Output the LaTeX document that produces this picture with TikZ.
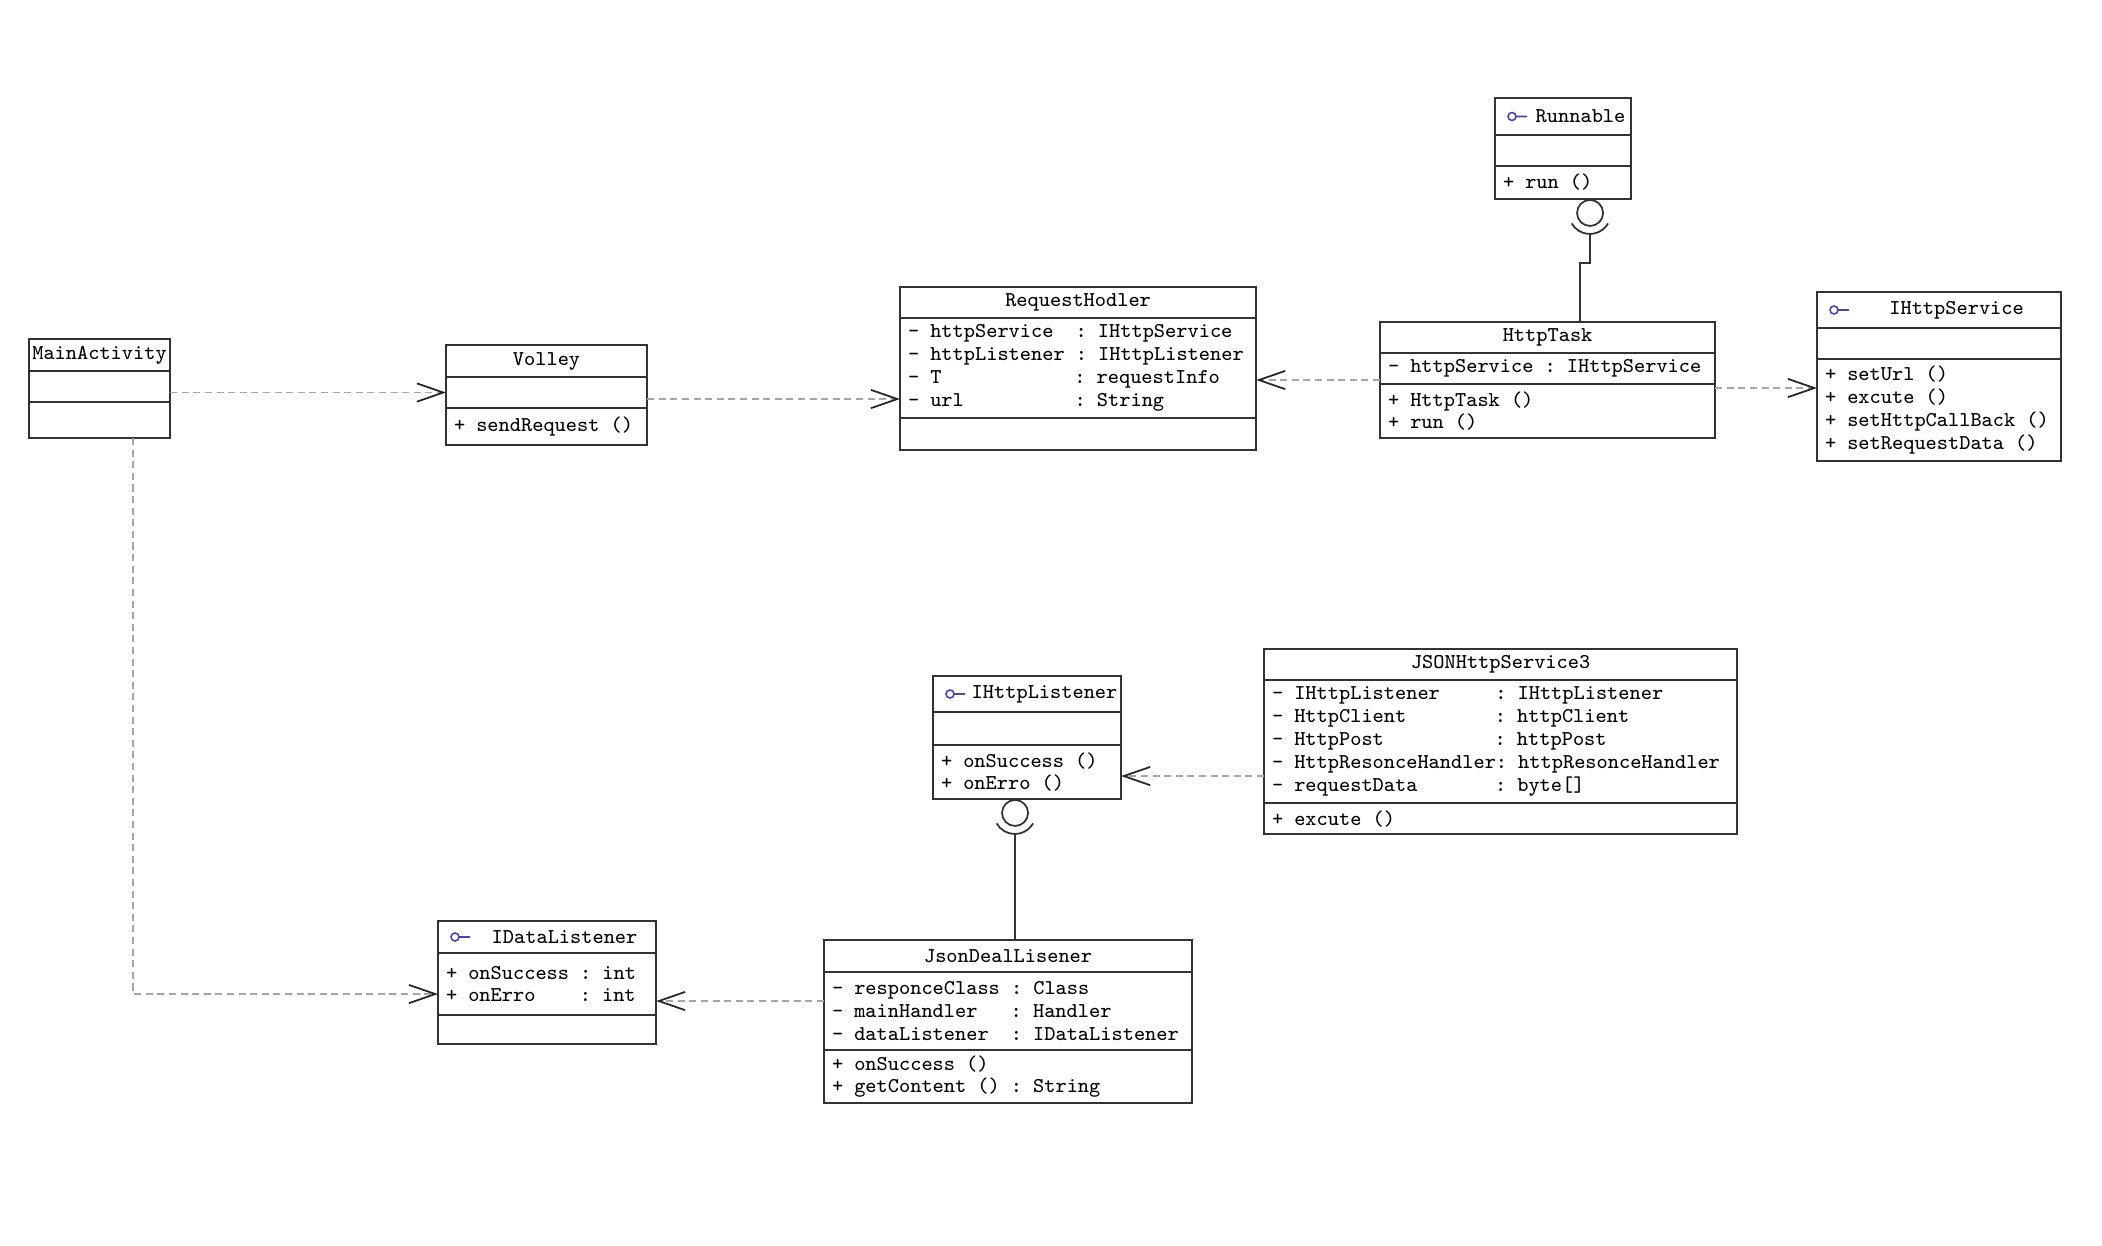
\documentclass[tikz,border=0pt]{standalone}
\usepackage{fontspec}
\usetikzlibrary{arrows.meta,positioning}
\definecolor{ifcblue}{RGB}{70,70,165}
\newcommand{\umlfont}{\fontsize{6}{6.5}\selectfont\ttfamily}

\begin{document}
\begin{tikzpicture}[
  x=0.01cm, y=-0.01cm,
  umlbox/.style={draw=black!80, line width=0.5pt, fill=white, inner ysep=0pt, outer sep=0pt, font=\umlfont},
  hd/.style={umlbox, inner xsep=0pt, minimum width=#1, anchor=north west},
  cp/.style={umlbox, inner xsep=0.08cm, text width=#1, align=left,
    execute at begin node={\spaceskip=0.525em\xspaceskip=0.525em\relax}},
  dep/.style={draw=black!35, line width=0.35pt, dash pattern=on 2pt off 1.3pt, -{Straight Barb[length=7.5pt, width=5.2pt, line width=0.5pt, color=black!85]}},
  link/.style={draw=black!80, line width=0.5pt},
  ball/.style={circle, draw=black!80, line width=0.5pt, fill=white, minimum size=0.26cm, inner sep=0pt},
  ifc/.style={draw=ifcblue, line width=0.45pt}
]
  \path[fill=white] (0,0) rectangle (2102,1246);

  % top row
  \node[hd=1.41cm, minimum height=0.32cm] (mainT) at (29,339) {MainActivity};
  \node[cp=1.25cm, minimum height=0.31cm, below=0pt of mainT] (mainA) {};
  \node[cp=1.25cm, minimum height=0.36cm, below=0pt of mainA] (mainO) {};

  \node[hd=2.01cm, minimum height=0.32cm] (volT) at (446,345) {Volley};
  \node[cp=1.85cm, minimum height=0.31cm, below=0pt of volT] (volA) {};
  \node[cp=1.85cm, minimum height=0.37cm, below=0pt of volA] (volO) {+ sendRequest ()};

  \node[hd=3.56cm, minimum height=0.31cm] (rhT) at (900,287) {RequestHodler};
  \node[cp=3.40cm, minimum height=1.00cm, below=0pt of rhT] (rhA) {- httpService\ \ : IHttpService\\- httpListener : IHttpListener\\- T\ \ \ \ \ \ \ \ \ \ \ \ : requestInfo\\- url\ \ \ \ \ \ \ \ \ \ : String};
  \node[cp=3.40cm, minimum height=0.32cm, below=0pt of rhA] (rhO) {};

  \node[hd=3.35cm, minimum height=0.31cm] (htT) at (1380,322) {HttpTask};
  \node[cp=3.19cm, minimum height=0.31cm, below=0pt of htT] (htA) {- httpService : IHttpService};
  \node[cp=3.19cm, minimum height=0.54cm, below=0pt of htA] (htO) {+ HttpTask ()\\+ run ()};

  \node[hd=1.36cm, minimum height=0.37cm] (rnT) at (1495,98) {\hspace*{0.35cm}Runnable};
  \node[cp=1.20cm, minimum height=0.31cm, below=0pt of rnT] (rnA) {};
  \node[cp=1.20cm, minimum height=0.33cm, below=0pt of rnA] (rnO) {+ run ()};

  \node[hd=2.44cm, minimum height=0.36cm] (isT) at (1817,292) {\hspace*{0.35cm}IHttpService};
  \node[cp=2.28cm, minimum height=0.31cm, below=0pt of isT] (isA) {};
  \node[cp=2.28cm, minimum height=1.02cm, below=0pt of isA] (isO) {+ setUrl ()\\+ excute ()\\+ setHttpCallBack ()\\+ setRequestData ()};

  % bottom row
  \node[hd=4.73cm, minimum height=0.31cm] (jsT) at (1264,649) {JSONHttpService3};
  \node[cp=4.57cm, minimum height=1.23cm, below=0pt of jsT] (jsA) {- IHttpListener\ \ \ \ \ : IHttpListener\\- HttpClient\ \ \ \ \ \ \ \ : httpClient\\- HttpPost\ \ \ \ \ \ \ \ \ \ : httpPost\\- HttpResonceHandler: httpResonceHandler\\- requestData\ \ \ \ \ \ \ : byte[]};
  \node[cp=4.57cm, minimum height=0.31cm, below=0pt of jsA] (jsO) {+ excute ()};

  \node[hd=1.88cm, minimum height=0.36cm] (ilT) at (933,676) {\hspace*{0.35cm}IHttpListener};
  \node[cp=1.72cm, minimum height=0.33cm, below=0pt of ilT] (ilA) {};
  \node[cp=1.72cm, minimum height=0.54cm, below=0pt of ilA] (ilO) {+ onSuccess ()\\+ onErro ()};

  \node[hd=3.68cm, minimum height=0.32cm] (jdlT) at (824,940) {JsonDealLisener};
  \node[cp=3.52cm, minimum height=0.78cm, below=0pt of jdlT] (jdlA) {- responceClass : Class\\- mainHandler\ \ \ : Handler\\- dataListener\ \ : IDataListener};
  \node[cp=3.52cm, minimum height=0.53cm, below=0pt of jdlA] (jdlO) {+ onSuccess ()\\+ getContent () : String};

  \node[hd=2.18cm, minimum height=0.32cm] (idlT) at (438,921) {\hspace*{0.35cm}IDataListener};
  \node[cp=2.02cm, minimum height=0.62cm, below=0pt of idlT] (idlA) {+ onSuccess : int\\+ onErro\ \ \ \ : int};
  \node[cp=2.02cm, minimum height=0.29cm, below=0pt of idlA] (idlO) {};

  % interface marks
  \draw[ifc] ([xshift=0.17cm]rnT.west) circle[radius=0.04cm] ([xshift=0.21cm]rnT.west) -- ([xshift=0.32cm]rnT.west);
  \draw[ifc] ([xshift=0.17cm]isT.west) circle[radius=0.04cm] ([xshift=0.21cm]isT.west) -- ([xshift=0.32cm]isT.west);
  \draw[ifc] ([xshift=0.17cm]ilT.west) circle[radius=0.04cm] ([xshift=0.21cm]ilT.west) -- ([xshift=0.32cm]ilT.west);
  \draw[ifc] ([xshift=0.17cm]idlT.west) circle[radius=0.04cm] ([xshift=0.21cm]idlT.west) -- ([xshift=0.32cm]idlT.west);

  % realisation (lollipop)
  \node[ball, anchor=north] (rnBall) at ([xshift=0.27cm]rnO.south) {};
  \draw[link] ([shift={(0.18cm,-0.105cm)}]rnBall.center) arc[start angle=-30, end angle=-150, radius=0.21cm];
  \coordinate (rnSock) at ([yshift=-0.21cm]rnBall.center);
  \draw[link] (rnSock) -- ++(0pt,-0.29cm) -| ([xshift=0.32cm]htT.north);

  \node[ball, anchor=north] (ilBall) at ([xshift=-0.12cm]ilO.south) {};
  \draw[link] ([shift={(0.18cm,-0.105cm)}]ilBall.center) arc[start angle=-30, end angle=-150, radius=0.21cm];
  \coordinate (ilSock) at ([yshift=-0.21cm]ilBall.center);
  \draw[link] (ilSock) -- (ilSock |- jdlT.north);

  % dependencies
  \coordinate (volOut) at ([yshift=-0.065cm]volA.east);
  \coordinate (htIn) at ([yshift=-0.115cm]htA.west);
  \coordinate (htOut) at ([yshift=-0.04cm]htO.north east);
  \coordinate (idlIn) at ([yshift=-0.1cm]idlA.west);
  \coordinate (jdlOut) at ([yshift=0.1cm]jdlA.west);
  \coordinate (ilIn) at ([yshift=-0.04cm]ilO.east);

  \draw[dep] (volA.west -| mainA.east) -- (volA.west);
  \draw[dep] (volOut) -- (volOut -| rhA.west);
  \draw[dep] (htIn) -- (htIn -| rhA.east);
  \draw[dep] (htOut) -- (htOut -| isO.west);
  \draw[dep] ([xshift=0.335cm]mainO.south) |- (idlIn);
  \draw[dep] (jdlOut) -- (jdlOut -| idlA.east);
  \draw[dep] (ilIn -| jsA.west) -- (ilIn);
\end{tikzpicture}
\end{document}
